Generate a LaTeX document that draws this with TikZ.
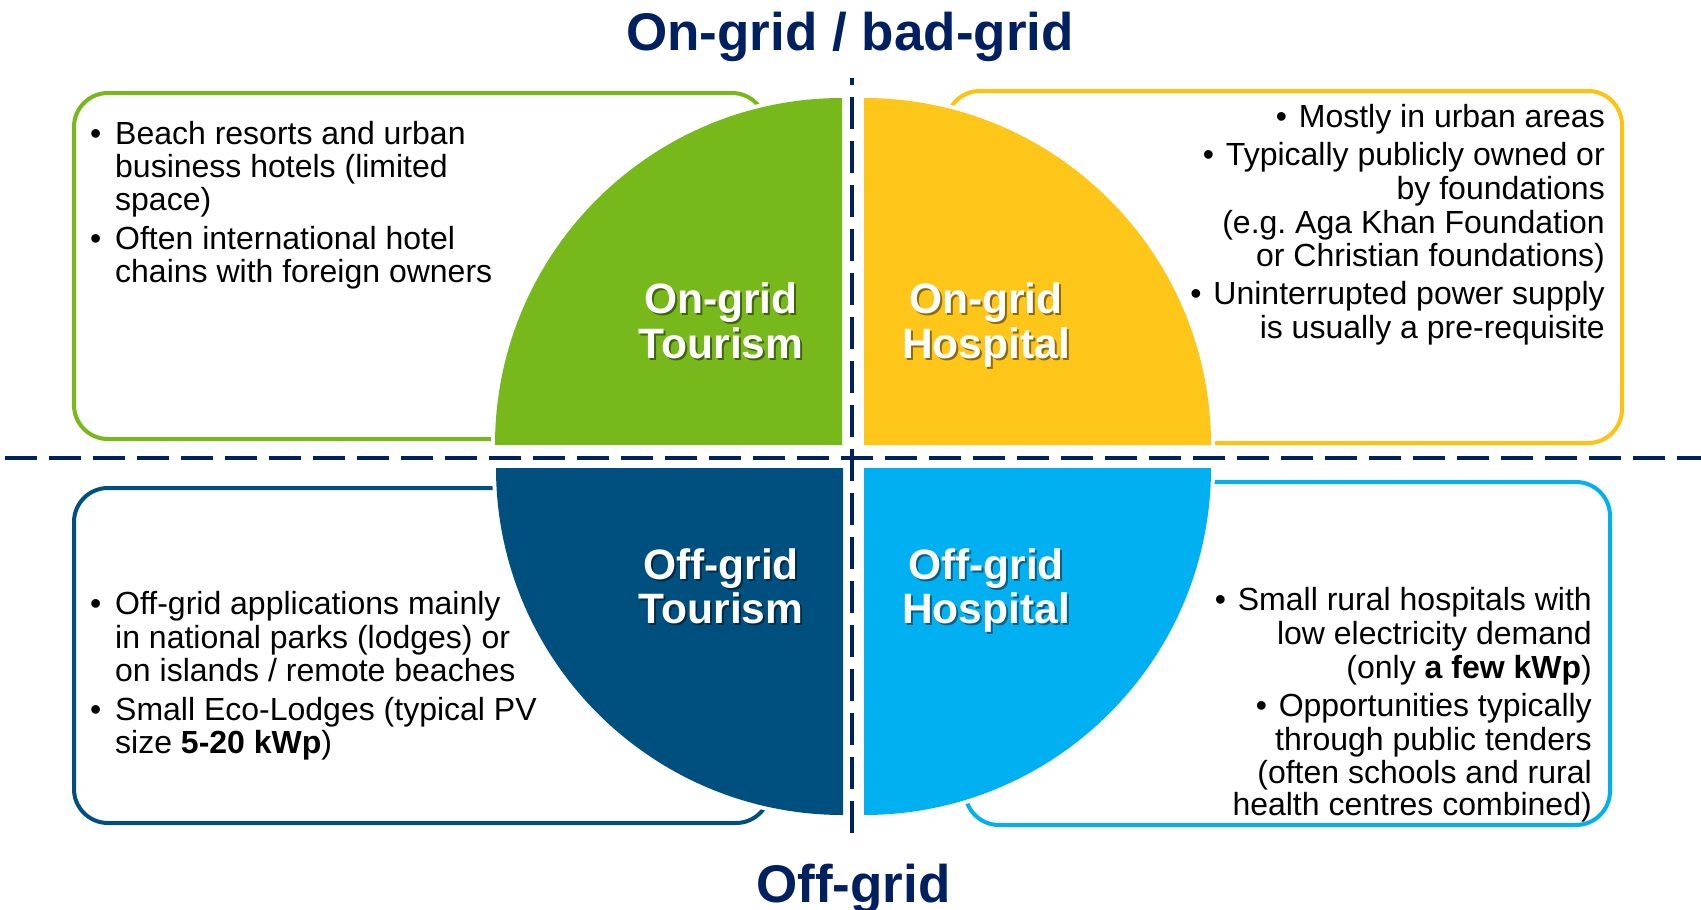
\documentclass[tikz,border=0pt]{standalone}
\usepackage{fontspec}
\setmainfont{Liberation Sans}
\definecolor{navy}{HTML}{002060}
\definecolor{qgreen}{HTML}{77B81A}
\definecolor{qyellow}{HTML}{FEC619}
\definecolor{qyellowline}{HTML}{FFC20E}
\definecolor{qdark}{HTML}{00507F}
\definecolor{qlight}{HTML}{00B0F0}
% bullets with the gap to the text that follows
\newcommand\lbul{\makebox[25pt][l]{•}}
\newcommand\rbul{\makebox[23pt][l]{•}}
% white quadrant caption with a soft drop shadow
\newcommand\quadlabel[4]{%
  \node[qshadow, xshift=2pt, yshift=-2pt] (#1s) at (#2,#3) {#4};
  \node[qtext] (#1) at (#2,#3) {#4};}
\begin{document}
\begin{tikzpicture}[x=1pt,y=-1pt,
  box/.style={line width=4pt, rounded corners=34pt},
  quarter/.style={preaction={draw=white, line width=8pt}},
  sep/.style={draw=navy, line width=4pt, dash pattern=on 32pt off 12pt},
  body/.style={inner sep=0pt, font=\fontsize{32}{33}\selectfont},
  lbody/.style={body, anchor=base west},
  rbody/.style={body, anchor=base east},
  qtext/.style={inner sep=0pt, anchor=base, text=white, font=\fontsize{42.5}{45}\selectfont\bfseries},
  qshadow/.style={qtext, text=black, opacity=0.45},
  heading/.style={inner sep=0pt, anchor=base, text=navy, font=\fontsize{53}{60}\selectfont\bfseries}]
\useasboundingbox (0,0) rectangle (1701,910);
\fill[white] (0,0) rectangle (1701,910);

% text frames behind the quadrants
\draw[box, draw=qgreen] (74,93) rectangle (766,439);
\draw[box, draw=qyellowline] (946,91) rectangle (1622,443);
\draw[box, draw=qdark] (74,488) rectangle (770,823);
\draw[box, draw=qlight] (965,482) rectangle (1610,825);

% four quarter discs, each with a white rim over the frames
\fill[quarter, qgreen] (842,445) -- (495,445)
  .. controls (495,253.4) and (650.4,98) .. (842,98) -- cycle;
\fill[quarter, qyellow] (864,445) -- (864,98)
  .. controls (1055.6,98) and (1211,253.4) .. (1211,445) -- cycle;
\fill[quarter, qdark] (843,468) -- (496,468)
  .. controls (496,659.6) and (651.4,815) .. (843,815) -- cycle;
\fill[quarter, qlight] (864,468) -- (1211,468)
  .. controls (1211,659.6) and (1055.6,815) .. (864,815) -- cycle;

% dashed axes
\coordinate (vtop) at (852,78);
\coordinate (vbot) at (852,833);
\coordinate (hleft) at (5,458);
\coordinate (hright) at (1701,458);
\draw[sep, dash phase=25pt] (vtop) -- (vbot);
\draw[sep] (hleft) -- (hright);

% axis headings
\node[heading] (ongrid) at (850,50) {On-grid / bad-grid};
\node[heading] (offgrid) at (853.5,902) {Off-grid};

% quadrant captions
\quadlabel{otA}{721}{313}{On-grid}
\quadlabel{otB}{721}{358}{Tourism}
\quadlabel{ohA}{986}{313}{On-grid}
\quadlabel{ohB}{986}{358}{Hospital}
\quadlabel{ftA}{721}{579}{Off-grid}
\quadlabel{ftB}{721}{623}{Tourism}
\quadlabel{fhA}{986}{579}{Off-grid}
\quadlabel{fhB}{986}{623}{Hospital}

% on-grid tourism
\node[lbody] (g1) at (90,144) {\lbul Beach resorts and urban};
\node[lbody] (g2) at (115,177) {business hotels (limited};
\node[lbody] (g3) at (115,210) {space)};
\node[lbody] (g4) at (90,249) {\lbul Often international hotel};
\node[lbody] (g5) at (115,282) {chains with foreign owners};

% on-grid hospital
\node[rbody] (y1) at (1605,127) {\rbul Mostly in urban areas};
\node[rbody] (y2) at (1605,165) {\rbul Typically publicly owned or};
\node[rbody] (y3) at (1605,199) {by foundations};
\node[rbody] (y4) at (1605,233) {(e.g.\ Aga Khan Foundation};
\node[rbody] (y5) at (1605,266) {or Christian foundations)};
\node[rbody] (y6) at (1605,304) {\rbul Uninterrupted power supply};
\node[rbody] (y7) at (1605,338) {is usually a pre-requisite};

% off-grid tourism
\node[lbody] (d1) at (90,614) {\lbul Off-grid applications mainly};
\node[lbody] (d2) at (115,648) {in national parks (lodges) or};
\node[lbody] (d3) at (115,681) {on islands / remote beaches};
\node[lbody] (d4) at (90,720) {\lbul Small Eco-Lodges (typical PV};
\node[lbody] (d5) at (115,753) {size \textbf{5-20 kWp})};

% off-grid hospital
\node[rbody] (l1) at (1592,610) {\rbul Small rural hospitals with};
\node[rbody] (l2) at (1592,644) {low electricity demand};
\node[rbody] (l3) at (1592,678) {(only \textbf{a few kWp})};
\node[rbody] (l4) at (1592,716) {\rbul Opportunities typically};
\node[rbody] (l5) at (1592,750) {through public tenders};
\node[rbody] (l6) at (1592,783) {(often schools and rural};
\node[rbody] (l7) at (1592,815) {health centres combined)};
\end{tikzpicture}
\end{document}
